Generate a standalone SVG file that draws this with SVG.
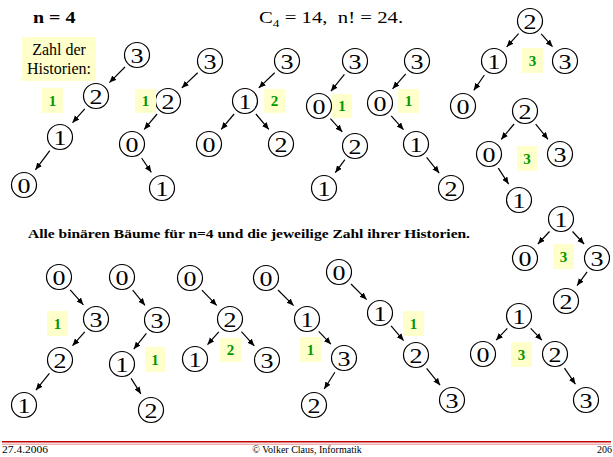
<svg xmlns="http://www.w3.org/2000/svg" width="613" height="457" viewBox="0 0 613 457">
<defs>
<marker id="ah" markerUnits="userSpaceOnUse" markerWidth="8" markerHeight="7" refX="7" refY="3" orient="auto">
<path d="M0,0 L7,3 L0,6 z" fill="#000"/>
</marker>
</defs>
<style>
.n circle{fill:#fff;stroke:#000;stroke-width:1.2}
.n text{font-family:"Liberation Serif","Times New Roman",serif;font-size:22px;text-anchor:middle;fill:#000}
.g rect{fill:#ffffcc}
.g text{font-family:"Liberation Serif","Times New Roman",serif;font-size:15px;font-weight:bold;fill:#009900;text-anchor:middle}
#edges line{stroke:#000;stroke-width:1.2;marker-end:url(#ah)}
.t{font-family:"Liberation Serif","Times New Roman",serif;fill:#000}
</style>
<rect width="613" height="457" fill="#fff"/>

<text class="t" transform="translate(33,23) scale(1.25,1)" font-size="16" font-weight="bold">n = 4</text>
<text class="t" transform="translate(259,23) scale(1.22,1)" font-size="17" xml:space="preserve">C<tspan font-size="11" dy="4">4</tspan><tspan dy="-4"> = 14,  n! = 24.</tspan></text>

<g id="legend">
<rect x="22" y="37" width="74" height="44" fill="#ffffcc"/>
<text class="t" x="59" y="55" font-size="16" text-anchor="middle">Zahl der</text>
<text class="t" x="59" y="74" font-size="16" text-anchor="middle">Historien:</text>
</g>

<text class="t" x="28" y="238" font-size="13" font-weight="bold" textLength="442" lengthAdjust="spacingAndGlyphs">Alle binären Bäume für n=4 und die jeweilige Zahl ihrer Historien.</text>

<g id="edges">
<line x1="125" y1="67" x2="109.4" y2="82.6"/>
<line x1="84.8" y1="108.8" x2="72.5" y2="122.7"/>
<line x1="49.8" y1="150.6" x2="35.4" y2="169.8"/>

<line x1="197.7" y1="72.7" x2="181.8" y2="87.9"/>
<line x1="157.1" y1="114" x2="144.2" y2="129.4"/>
<line x1="141.6" y1="158" x2="151.3" y2="172.3"/>

<line x1="274.7" y1="72.7" x2="258.8" y2="87.9"/>
<line x1="234.1" y1="114" x2="221.2" y2="129.4"/>
<line x1="255.9" y1="114" x2="268.8" y2="129.4"/>

<line x1="344.4" y1="74.3" x2="330.9" y2="91.2"/>
<line x1="330.4" y1="118.6" x2="342.3" y2="131.9"/>
<line x1="344.9" y1="159.7" x2="335.3" y2="172.7"/>

<line x1="405.8" y1="73.8" x2="392.6" y2="88.8"/>
<line x1="391.2" y1="115.8" x2="403.5" y2="129.7"/>
<line x1="426.6" y1="157.3" x2="439.2" y2="173.1"/>

<line x1="518.6" y1="33.6" x2="506.7" y2="46.9"/>
<line x1="541.2" y1="33.8" x2="552.5" y2="46.7"/>
<line x1="484.4" y1="75" x2="473.8" y2="90.3"/>

<line x1="514.1" y1="124" x2="501.2" y2="139.4"/>
<line x1="535.7" y1="124.2" x2="548" y2="139.3"/>
<line x1="498.3" y1="168.2" x2="508.6" y2="184.1"/>

<line x1="549.5" y1="231.5" x2="537.9" y2="244"/>
<line x1="572.5" y1="231.5" x2="584.1" y2="244"/>
<line x1="587.1" y1="271.8" x2="577.1" y2="285.6"/>

<line x1="507.3" y1="328.3" x2="496.1" y2="340.2"/>
<line x1="530.7" y1="328.3" x2="541.9" y2="340.2"/>
<line x1="564.5" y1="368.1" x2="575.4" y2="384.2"/>

<line x1="70.2" y1="289.8" x2="83.4" y2="304.8"/>
<line x1="84.8" y1="331.8" x2="72.5" y2="345.7"/>
<line x1="49.4" y1="373.3" x2="35.9" y2="390.2"/>

<line x1="132.7" y1="290.2" x2="145" y2="305.3"/>
<line x1="146.4" y1="333.3" x2="133.8" y2="349.1"/>
<line x1="131.1" y1="378.4" x2="140.9" y2="393.9"/>

<line x1="201.9" y1="290.2" x2="216.7" y2="305.4"/>
<line x1="218.8" y1="331.8" x2="207.5" y2="344.7"/>
<line x1="241.4" y1="331.6" x2="254.3" y2="345.9"/>

<line x1="278" y1="290" x2="293.6" y2="305.6"/>
<line x1="318.7" y1="331.3" x2="330.9" y2="344.2"/>
<line x1="334.9" y1="372.3" x2="324.2" y2="389"/>

<line x1="351" y1="284" x2="366.6" y2="299.6"/>
<line x1="391.1" y1="325.9" x2="403.6" y2="340.6"/>
<line x1="426.6" y1="368.3" x2="440.1" y2="385.2"/>
</g>

<!-- tree 1 -->
<g id="t1n3" class="n"><circle cx="137" cy="55" r="12.5"/><text x="137" y="62.5" textLength="13" lengthAdjust="spacingAndGlyphs">3</text></g>
<g id="t1n2" class="n"><circle cx="96" cy="96" r="12.5"/><text x="96" y="103.5" textLength="13" lengthAdjust="spacingAndGlyphs">2</text></g>
<g id="t1n1" class="n"><circle cx="60" cy="137" r="12.5"/><text x="60" y="144.5" textLength="13" lengthAdjust="spacingAndGlyphs">1</text></g>
<g id="t1n0" class="n"><circle cx="24" cy="185" r="12.5"/><text x="24" y="192.5" textLength="13" lengthAdjust="spacingAndGlyphs">0</text></g>
<g id="t1h" class="g"><rect x="42" y="88" width="21" height="25"/><text x="52.5" y="106">1</text></g>

<!-- tree 2 -->
<g id="t2n3" class="n"><circle cx="210" cy="61" r="12.5"/><text x="210" y="68.5" textLength="13" lengthAdjust="spacingAndGlyphs">3</text></g>
<g id="t2n2" class="n"><circle cx="168" cy="101" r="12.5"/><text x="168" y="108.5" textLength="13" lengthAdjust="spacingAndGlyphs">2</text></g>
<g id="t2n0" class="n"><circle cx="132" cy="144" r="12.5"/><text x="132" y="151.5" textLength="13" lengthAdjust="spacingAndGlyphs">0</text></g>
<g id="t2n1" class="n"><circle cx="162" cy="188" r="12.5"/><text x="162" y="195.5" textLength="13" lengthAdjust="spacingAndGlyphs">1</text></g>
<g id="t2h" class="g"><rect x="135" y="89" width="21" height="24"/><text x="145.5" y="106">1</text></g>

<!-- tree 3 -->
<g id="t3n3" class="n"><circle cx="287" cy="61" r="12.5"/><text x="287" y="68.5" textLength="13" lengthAdjust="spacingAndGlyphs">3</text></g>
<g id="t3n1" class="n"><circle cx="245" cy="101" r="12.5"/><text x="245" y="108.5" textLength="13" lengthAdjust="spacingAndGlyphs">1</text></g>
<g id="t3n0" class="n"><circle cx="209" cy="144" r="12.5"/><text x="209" y="151.5" textLength="13" lengthAdjust="spacingAndGlyphs">0</text></g>
<g id="t3n2" class="n"><circle cx="281" cy="144" r="12.5"/><text x="281" y="151.5" textLength="13" lengthAdjust="spacingAndGlyphs">2</text></g>
<g id="t3h" class="g"><rect x="264" y="89" width="21" height="24"/><text x="274.5" y="106">2</text></g>

<!-- tree 4 -->
<g id="t4n3" class="n"><circle cx="355" cy="61" r="12.5"/><text x="355" y="68.5" textLength="13" lengthAdjust="spacingAndGlyphs">3</text></g>
<g id="t4n0" class="n"><circle cx="319" cy="106" r="12.5"/><text x="319" y="113.5" textLength="13" lengthAdjust="spacingAndGlyphs">0</text></g>
<g id="t4n2" class="n"><circle cx="355" cy="146" r="12.5"/><text x="355" y="153.5" textLength="13" lengthAdjust="spacingAndGlyphs">2</text></g>
<g id="t4n1" class="n"><circle cx="324" cy="188" r="12.5"/><text x="324" y="195.5" textLength="13" lengthAdjust="spacingAndGlyphs">1</text></g>
<g id="t4h" class="g"><rect x="332" y="94" width="20" height="24"/><text x="342" y="111">1</text></g>

<!-- tree 5 -->
<g id="t5n3" class="n"><circle cx="417" cy="61" r="12.5"/><text x="417" y="68.5" textLength="13" lengthAdjust="spacingAndGlyphs">3</text></g>
<g id="t5n0" class="n"><circle cx="380" cy="103" r="12.5"/><text x="380" y="110.5" textLength="13" lengthAdjust="spacingAndGlyphs">0</text></g>
<g id="t5n1" class="n"><circle cx="416" cy="144" r="12.5"/><text x="416" y="151.5" textLength="13" lengthAdjust="spacingAndGlyphs">1</text></g>
<g id="t5n2" class="n"><circle cx="451" cy="188" r="12.5"/><text x="451" y="195.5" textLength="13" lengthAdjust="spacingAndGlyphs">2</text></g>
<g id="t5h" class="g"><rect x="398" y="89" width="21" height="24"/><text x="408.5" y="106">1</text></g>

<!-- tree 6 -->
<g id="t6n2" class="n"><circle cx="530" cy="21" r="12.5"/><text x="530" y="28.5" textLength="13" lengthAdjust="spacingAndGlyphs">2</text></g>
<g id="t6n1" class="n"><circle cx="494" cy="61" r="12.5"/><text x="494" y="68.5" textLength="13" lengthAdjust="spacingAndGlyphs">1</text></g>
<g id="t6n3" class="n"><circle cx="565" cy="61" r="12.5"/><text x="565" y="68.5" textLength="13" lengthAdjust="spacingAndGlyphs">3</text></g>
<g id="t6n0" class="n"><circle cx="463" cy="106" r="12.5"/><text x="463" y="113.5" textLength="13" lengthAdjust="spacingAndGlyphs">0</text></g>
<g id="t6h" class="g"><rect x="522" y="48" width="21" height="25"/><text x="532.5" y="66">3</text></g>

<!-- tree 7 -->
<g id="t7n2" class="n"><circle cx="525" cy="111" r="12.5"/><text x="525" y="118.5" textLength="13" lengthAdjust="spacingAndGlyphs">2</text></g>
<g id="t7n0" class="n"><circle cx="489" cy="154" r="12.5"/><text x="489" y="161.5" textLength="13" lengthAdjust="spacingAndGlyphs">0</text></g>
<g id="t7n3" class="n"><circle cx="560" cy="154" r="12.5"/><text x="560" y="161.5" textLength="13" lengthAdjust="spacingAndGlyphs">3</text></g>
<g id="t7n1" class="n"><circle cx="519" cy="200" r="12.5"/><text x="519" y="207.5" textLength="13" lengthAdjust="spacingAndGlyphs">1</text></g>
<g id="t7h" class="g"><rect x="517" y="146" width="20" height="25"/><text x="527" y="164">3</text></g>

<!-- tree 8 -->
<g id="t8n1" class="n"><circle cx="561" cy="219" r="12.5"/><text x="561" y="226.5" textLength="13" lengthAdjust="spacingAndGlyphs">1</text></g>
<g id="t8n0" class="n"><circle cx="525" cy="258" r="12.5"/><text x="525" y="265.5" textLength="13" lengthAdjust="spacingAndGlyphs">0</text></g>
<g id="t8n3" class="n"><circle cx="597" cy="258" r="12.5"/><text x="597" y="265.5" textLength="13" lengthAdjust="spacingAndGlyphs">3</text></g>
<g id="t8n2" class="n"><circle cx="566" cy="301" r="12.5"/><text x="566" y="308.5" textLength="13" lengthAdjust="spacingAndGlyphs">2</text></g>
<g id="t8h" class="g"><rect x="553" y="244" width="21" height="25"/><text x="563.5" y="262">3</text></g>

<!-- tree 9 -->
<g id="t9n1" class="n"><circle cx="519" cy="316" r="12.5"/><text x="519" y="323.5" textLength="13" lengthAdjust="spacingAndGlyphs">1</text></g>
<g id="t9n0" class="n"><circle cx="483" cy="354" r="12.5"/><text x="483" y="361.5" textLength="13" lengthAdjust="spacingAndGlyphs">0</text></g>
<g id="t9n2" class="n"><circle cx="555" cy="354" r="12.5"/><text x="555" y="361.5" textLength="13" lengthAdjust="spacingAndGlyphs">2</text></g>
<g id="t9n3" class="n"><circle cx="586" cy="400" r="12.5"/><text x="586" y="407.5" textLength="13" lengthAdjust="spacingAndGlyphs">3</text></g>
<g id="t9h" class="g"><rect x="511" y="342" width="21" height="25"/><text x="521.5" y="360">3</text></g>

<!-- tree 10 -->
<g id="t10n0" class="n"><circle cx="59" cy="277" r="12.5"/><text x="59" y="284.5" textLength="13" lengthAdjust="spacingAndGlyphs">0</text></g>
<g id="t10n3" class="n"><circle cx="96" cy="319" r="12.5"/><text x="96" y="326.5" textLength="13" lengthAdjust="spacingAndGlyphs">3</text></g>
<g id="t10n2" class="n"><circle cx="60" cy="360" r="12.5"/><text x="60" y="367.5" textLength="13" lengthAdjust="spacingAndGlyphs">2</text></g>
<g id="t10n1" class="n"><circle cx="24" cy="405" r="12.5"/><text x="24" y="412.5" textLength="13" lengthAdjust="spacingAndGlyphs">1</text></g>
<g id="t10h" class="g"><rect x="47" y="311" width="21" height="25"/><text x="57.5" y="329">1</text></g>

<!-- tree 11 -->
<g id="t11n0" class="n"><circle cx="122" cy="277" r="12.5"/><text x="122" y="284.5" textLength="13" lengthAdjust="spacingAndGlyphs">0</text></g>
<g id="t11n3" class="n"><circle cx="157" cy="320" r="12.5"/><text x="157" y="327.5" textLength="13" lengthAdjust="spacingAndGlyphs">3</text></g>
<g id="t11n1" class="n"><circle cx="122" cy="364" r="12.5"/><text x="122" y="371.5" textLength="13" lengthAdjust="spacingAndGlyphs">1</text></g>
<g id="t11n2" class="n"><circle cx="151" cy="410" r="12.5"/><text x="151" y="417.5" textLength="13" lengthAdjust="spacingAndGlyphs">2</text></g>
<g id="t11h" class="g"><rect x="145" y="347" width="20" height="25"/><text x="155" y="365">1</text></g>

<!-- tree 12 -->
<g id="t12n0" class="n"><circle cx="190" cy="278" r="12.5"/><text x="190" y="285.5" textLength="13" lengthAdjust="spacingAndGlyphs">0</text></g>
<g id="t12n2" class="n"><circle cx="230" cy="319" r="12.5"/><text x="230" y="326.5" textLength="13" lengthAdjust="spacingAndGlyphs">2</text></g>
<g id="t12n1" class="n"><circle cx="195" cy="359" r="12.5"/><text x="195" y="366.5" textLength="13" lengthAdjust="spacingAndGlyphs">1</text></g>
<g id="t12n3" class="n"><circle cx="267" cy="360" r="12.5"/><text x="267" y="367.5" textLength="13" lengthAdjust="spacingAndGlyphs">3</text></g>
<g id="t12h" class="g"><rect x="220" y="338" width="21" height="24"/><text x="230.5" y="355">2</text></g>

<!-- tree 13 -->
<g id="t13n0" class="n"><circle cx="266" cy="278" r="12.5"/><text x="266" y="285.5" textLength="13" lengthAdjust="spacingAndGlyphs">0</text></g>
<g id="t13n1" class="n"><circle cx="307" cy="319" r="12.5"/><text x="307" y="326.5" textLength="13" lengthAdjust="spacingAndGlyphs">1</text></g>
<g id="t13n3" class="n"><circle cx="344" cy="358" r="12.5"/><text x="344" y="365.5" textLength="13" lengthAdjust="spacingAndGlyphs">3</text></g>
<g id="t13n2" class="n"><circle cx="314" cy="405" r="12.5"/><text x="314" y="412.5" textLength="13" lengthAdjust="spacingAndGlyphs">2</text></g>
<g id="t13h" class="g"><rect x="300" y="337" width="21" height="25"/><text x="310.5" y="355">1</text></g>

<!-- tree 14 -->
<g id="t14n0" class="n"><circle cx="339" cy="272" r="12.5"/><text x="339" y="279.5" textLength="13" lengthAdjust="spacingAndGlyphs">0</text></g>
<g id="t14n1" class="n"><circle cx="380" cy="313" r="12.5"/><text x="380" y="320.5" textLength="13" lengthAdjust="spacingAndGlyphs">1</text></g>
<g id="t14n2" class="n"><circle cx="416" cy="355" r="12.5"/><text x="416" y="362.5" textLength="13" lengthAdjust="spacingAndGlyphs">2</text></g>
<g id="t14n3" class="n"><circle cx="452" cy="400" r="12.5"/><text x="452" y="407.5" textLength="13" lengthAdjust="spacingAndGlyphs">3</text></g>
<g id="t14h" class="g"><rect x="403" y="311" width="21" height="25"/><text x="413.5" y="329">1</text></g>

<!-- footer -->
<line x1="2" y1="441.7" x2="611" y2="441.7" stroke="#c00000" stroke-width="1.5"/>
<line x1="2" y1="444.2" x2="611" y2="444.2" stroke="#e07070" stroke-width="0.8"/>
<text class="t" x="2" y="453" font-size="10" textLength="46" lengthAdjust="spacingAndGlyphs">27.4.2006</text>
<text class="t" x="307" y="453" font-size="10" text-anchor="middle">© Volker Claus, Informatik</text>
<text class="t" x="612" y="453" font-size="10" text-anchor="end">206</text>
</svg>
